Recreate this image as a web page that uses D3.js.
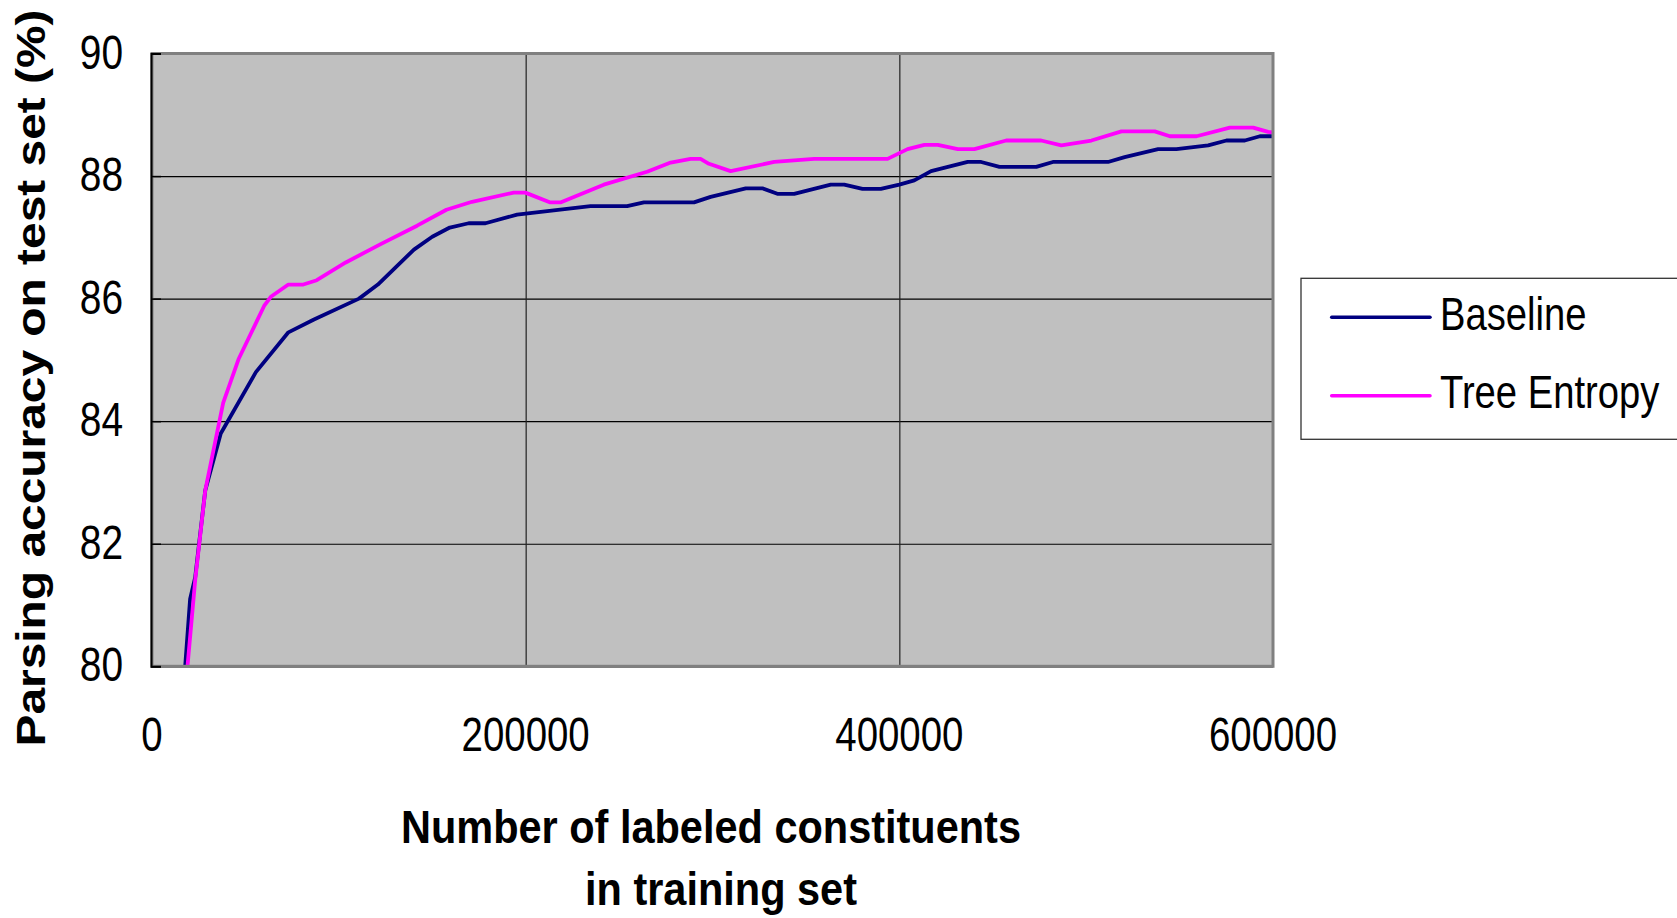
<!DOCTYPE html>
<html>
<head>
<meta charset="utf-8">
<script src="https://cdn.jsdelivr.net/npm/d3@7"></script>
<style>
  html, body { margin: 0; padding: 0; background: #fff; }
  svg { display: block; }
  text { font-family: "Liberation Sans", Arial, Helvetica, sans-serif; fill: #000; }
</style>
</head>
<body>
<svg id="chart" width="1677" height="918"></svg>
<script>
// Training-set size (labeled constituents) and parsing accuracy (%)
const baselineX = [17750, 20400, 23100, 28500, 36800, 55600, 73000, 86700, 110800, 120900,
  140200, 150000, 159400, 169500, 178500, 195400, 234700, 254300, 263300, 290100,
  299000, 317800, 326700, 334700, 343700, 363300, 370500, 380300, 390100, 400000,
  408000, 417000, 436600, 443800, 453600, 473300, 482200, 511700, 520600, 538500,
  548300, 565300, 575100, 584900, 593000, 601700];
const baselineY = [80.0, 81.1, 81.45, 82.87, 83.8, 84.8, 85.45, 85.66, 86.0, 86.23,
  86.8, 87.01, 87.16, 87.23, 87.23, 87.37, 87.51, 87.51, 87.57, 87.57,
  87.66, 87.8, 87.8, 87.71, 87.71, 87.86, 87.86, 87.79, 87.79, 87.86,
  87.93, 88.08, 88.23, 88.23, 88.15, 88.15, 88.23, 88.23, 88.31, 88.44,
  88.44, 88.5, 88.58, 88.58, 88.65, 88.65];

const entropyX = [19000, 23100, 28500, 38100, 46300, 60000, 63600, 73000, 81000, 88200,
  103700, 122400, 141900, 157600, 171300, 193600, 199800, 213200, 218600, 241800,
  265000, 277600, 288300, 293600, 298100, 309700, 333000, 354400, 393700, 404400,
  413400, 420600, 431300, 440200, 457200, 475900, 486700, 502800, 518900, 536700,
  544800, 559100, 576900, 589400, 597400, 601700];
const entropyY = [80.0, 81.4, 82.87, 84.3, 85.01, 85.88, 86.03, 86.23, 86.23, 86.3,
  86.59, 86.89, 87.19, 87.45, 87.58, 87.73, 87.73, 87.57, 87.57, 87.86,
  88.07, 88.22, 88.28, 88.28, 88.2, 88.08, 88.23, 88.28, 88.28, 88.44,
  88.51, 88.51, 88.44, 88.44, 88.58, 88.58, 88.5, 88.58, 88.73, 88.73,
  88.65, 88.65, 88.79, 88.79, 88.72, 88.71];

const xTicks = [0, 200000, 400000, 600000];
const yTicks = [80, 82, 84, 86, 88, 90];
const seriesNames = ["Baseline", "Tree Entropy"];
const seriesColors = ["#000080", "#FF00FF"];
const xTitle = ["Number of labeled constituents", "in training set"];
const yTitle = "Parsing accuracy on test set (%)";

const svg = d3.select("#chart");
const plot = { left: 152, right: 1273, top: 53.5, bottom: 666.3 };

const x = d3.scaleLinear().domain([0, 600000]).range([plot.left, plot.right]);
const y = d3.scaleLinear().domain([80, 90]).range([plot.bottom, plot.top]);

// helper: text squeezed horizontally
function label(g, str, px, py, size, sx, anchor, weight) {
  return g.append("text")
    .attr("transform", `translate(${px},${py}) scale(${sx},1)`)
    .attr("text-anchor", anchor)
    .style("font-size", size + "px")
    .style("font-weight", weight || "normal")
    .text(str);
}

// plot background
svg.append("rect")
  .attr("x", plot.left).attr("y", plot.top)
  .attr("width", plot.right - plot.left).attr("height", plot.bottom - plot.top)
  .attr("fill", "#C0C0C0");

// gridlines
svg.append("g")
  .attr("transform", `translate(${plot.left},0)`)
  .call(d3.axisLeft(y).tickValues(yTicks).tickSize(-(plot.right - plot.left)).tickFormat(""))
  .call(g => g.select(".domain").remove())
  .call(g => g.selectAll(".tick line").attr("stroke", "#000").attr("stroke-width", 1.2));

svg.append("g")
  .attr("transform", `translate(0,${plot.bottom})`)
  .call(d3.axisBottom(x).tickValues(xTicks.slice(1, -1)).tickSize(-(plot.bottom - plot.top)).tickFormat(""))
  .call(g => g.select(".domain").remove())
  .call(g => g.selectAll(".tick line").attr("stroke", "#222").attr("stroke-width", 1.2));

// series lines
const defs = svg.append("defs");
defs.append("clipPath").attr("id", "plotClip")
  .append("rect")
  .attr("x", plot.left).attr("y", plot.top)
  .attr("width", plot.right - plot.left).attr("height", plot.bottom - plot.top);

const line = d3.line().x(d => x(d[0])).y(d => y(d[1]));
const series = [
  d3.zip(baselineX, baselineY),
  d3.zip(entropyX, entropyY)
];
const lines = svg.append("g").attr("clip-path", "url(#plotClip)");
series.forEach((pts, i) => {
  lines.append("path")
    .datum(pts)
    .attr("fill", "none")
    .attr("stroke", seriesColors[i])
    .attr("stroke-width", 3.8)
    .attr("stroke-linejoin", "round")
    .attr("d", line);
});

// frame
svg.append("rect")
  .attr("x", plot.left).attr("y", plot.top)
  .attr("width", plot.right - plot.left).attr("height", plot.bottom - plot.top)
  .attr("fill", "none").attr("stroke", "#808080").attr("stroke-width", 3);

// y axis line with inward ticks
svg.append("g")
  .attr("transform", `translate(${plot.left - 1},0)`)
  .call(d3.axisRight(y).tickValues(yTicks).tickSize(10).tickFormat(""))
  .call(g => g.select(".domain").attr("stroke", "#000").attr("stroke-width", 2))
  .call(g => g.selectAll(".tick line").attr("stroke", "#000").attr("stroke-width", 1.5));

// tick labels
const yl = svg.append("g");
yTicks.forEach(v => label(yl, String(v), 123, y(v) + 15, 48, 0.81, "end"));
const xl = svg.append("g");
xTicks.forEach(v => label(xl, String(v), x(v), 750.5, 48, 0.8, "middle"));

// axis titles
svg.append("text")
  .attr("x", 711).attr("y", 843)
  .attr("text-anchor", "middle")
  .attr("textLength", 620).attr("lengthAdjust", "spacingAndGlyphs")
  .style("font-size", "47px").style("font-weight", "bold")
  .text(xTitle[0]);
svg.append("text")
  .attr("x", 721).attr("y", 905)
  .attr("text-anchor", "middle")
  .attr("textLength", 272).attr("lengthAdjust", "spacingAndGlyphs")
  .style("font-size", "47px").style("font-weight", "bold")
  .text(xTitle[1]);
svg.append("text")
  .attr("transform", "translate(45,378) rotate(-90)")
  .attr("text-anchor", "middle")
  .attr("textLength", 737).attr("lengthAdjust", "spacingAndGlyphs")
  .style("font-size", "40px").style("font-weight", "bold")
  .text(yTitle);

// legend
const lg = svg.append("g");
lg.append("rect")
  .attr("x", 1301).attr("y", 278.3)
  .attr("width", 420).attr("height", 161)
  .attr("fill", "#fff").attr("stroke", "#333").attr("stroke-width", 1.3);
const legendY = [317.3, 395.7];
seriesNames.forEach((name, i) => {
  lg.append("line")
    .attr("x1", 1331.7).attr("x2", 1430)
    .attr("y1", legendY[i]).attr("y2", legendY[i])
    .attr("stroke", seriesColors[i]).attr("stroke-width", 3.5)
    .attr("stroke-linecap", "round");
  label(lg, name, 1440, legendY[i] + 12.5, 46, 0.83, "start");
});
</script>
</body>
</html>
